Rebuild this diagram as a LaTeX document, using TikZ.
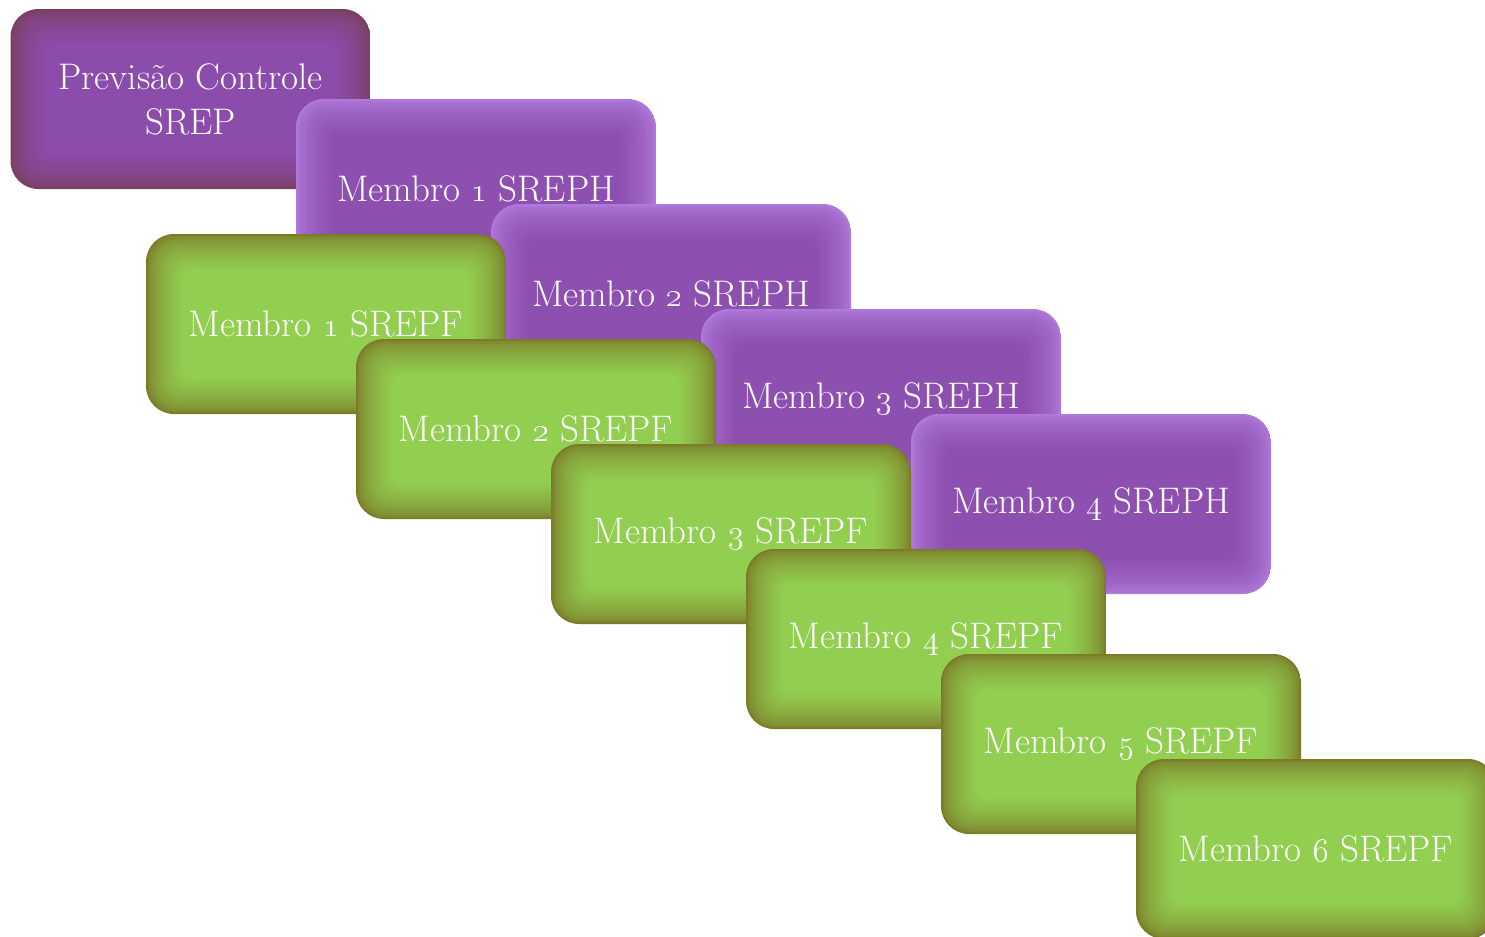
\documentclass[tikz,border=0pt]{standalone}

\definecolor{prevEdge}{HTML}{7A3E5E}
\definecolor{prevFill}{HTML}{8C4CAC}
\definecolor{sephEdge}{HTML}{B07ADC}
\definecolor{sephFill}{HTML}{8E50B0}
\definecolor{sepfEdge}{HTML}{7B7A28}
\definecolor{sepfFill}{HTML}{92CE50}

\tikzset{
    glowbox/.style 2 args={
        minimum width=180pt, minimum height=90pt, inner sep=0pt,
        rounded corners=14pt, text=white, align=center,
        font=\fontsize{18.5}{22.5}\selectfont,
        path picture={
            \foreach \i in {0,...,24}{
                \pgfmathsetmacro{\mix}{100*(\i/24)^0.6}
                \pgfmathsetmacro{\rad}{max(14-0.4*\i,6)}
                \fill[#2!\mix!#1, rounded corners=\rad pt]
                    ([shift={(\i*0.75pt,-\i*0.75pt)}]path picture bounding box.north west)
                    rectangle
                    ([shift={(-\i*0.75pt,\i*0.75pt)}]path picture bounding box.south east);
            }
        }
    },
    prevbox/.style={glowbox={prevEdge}{prevFill}},
    sephbox/.style={glowbox={sephEdge}{sephFill}},
    sepfbox/.style={glowbox={sepfEdge}{sepfFill}}
}

\begin{document}
\begin{tikzpicture}[x=0.5pt, y=-0.5pt]
    \useasboundingbox (0,0) rectangle (1485,937);
    \clip (0,0) rectangle (1485,937);

    % purple boxes
    \node[prevbox] (prev) at (190.5,99) {Previs\~ao Controle\\SREP};
    \node[sephbox] (h1) at (476,189) {Membro \oldstylenums{1} SREPH};
    \node[sephbox] (h2) at (671,294) {Membro \oldstylenums{2} SREPH};
    \node[sephbox] (h3) at (881,399) {Membro \oldstylenums{3} SREPH};
    \node[sephbox] (h4) at (1091,504) {Membro \oldstylenums{4} SREPH};

    % green boxes
    \node[sepfbox] (f1) at (326,324) {Membro \oldstylenums{1} SREPF};
    \node[sepfbox] (f2) at (536,429) {Membro \oldstylenums{2} SREPF};
    \node[sepfbox] (f3) at (731,534) {Membro \oldstylenums{3} SREPF};
    \node[sepfbox] (f4) at (926,639) {Membro \oldstylenums{4} SREPF};
    \node[sepfbox] (f5) at (1121,744) {Membro \oldstylenums{5} SREPF};
    \node[sepfbox] (f6) at (1316,849) {Membro \oldstylenums{6} SREPF};
\end{tikzpicture}
\end{document}
